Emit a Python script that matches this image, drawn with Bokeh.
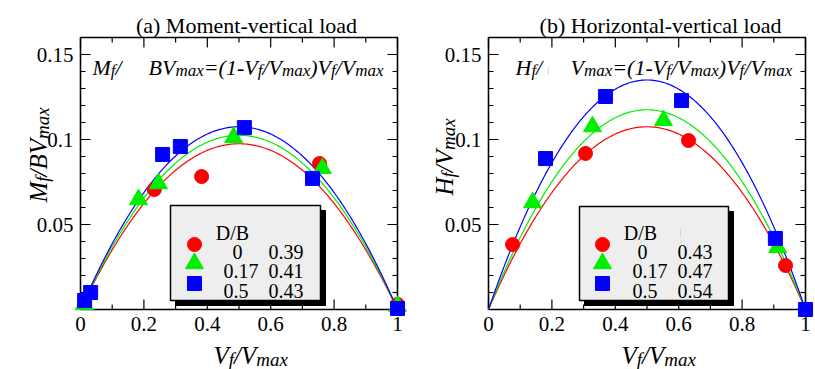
import math
import numpy as np
from bokeh.plotting import figure
from bokeh.models import Range1d, Label
from bokeh.core.properties import value
from bokeh.layouts import row
from bokeh.embed import file_html
from bokeh.resources import INLINE

# ---------------- data ----------------
x_tick_vals = [0, 0.2, 0.4, 0.6, 0.8, 1]
x_tick_labels = ["0", "0.2", "0.4", "0.6", "0.8", "1"]
x_minor_vals = [0.1, 0.3, 0.5, 0.7, 0.9]
y_tick_vals = [0.05, 0.1, 0.15]
y_tick_labels = ["0.05", "0.1", "0.15"]
y_minor_vals = [0.01, 0.02, 0.03, 0.04, 0.06, 0.07, 0.08, 0.09, 0.11, 0.12, 0.13, 0.14]
x_lim = (0, 1)
y_lim = (0, 0.16)

db_values = ["0", "0.17", "0.5"]
alpha_a = [0.39, 0.41, 0.43]
alpha_b = [0.43, 0.47, 0.54]

# (a) moment-vertical load
a_red_x = [0.233, 0.382, 0.754, 1.0]
a_red_y = [0.0706, 0.0782, 0.0859, 0.003]
a_green_x = [0.012, 0.183, 0.246, 0.483, 0.763, 1.0]
a_green_y = [0.003, 0.0647, 0.0741, 0.1012, 0.083, 0.002]
a_blue_x = [0.013, 0.032, 0.259, 0.315, 0.517, 0.732, 1.0]
a_blue_y = [0.0053, 0.010, 0.0912, 0.0959, 0.107, 0.0771, 0.0006]

# (b) horizontal-vertical load
b_red_x = [0.076, 0.306, 0.631, 0.937]
b_red_y = [0.0382, 0.0918, 0.0994, 0.0259]
b_green_x = [0.139, 0.328, 0.552, 0.912]
b_green_y = [0.0629, 0.1076, 0.1112, 0.0365]
b_blue_x = [0.18, 0.369, 0.609, 0.905, 1.0]
b_blue_y = [0.0888, 0.1253, 0.1229, 0.0418, 0.0]

colors = ["#ff0000", "#00ee00", "#0000ff"]
markers = ["circle", "triangle", "square"]
msizes = [14, 18, 14]

FONT = "Liberation Serif"
W_IT = {'M': 833, 'B': 611, 'V': 611, 'H': 722, 'f': 278, '/': 278, 'm': 722, 'a': 500,
        'x': 444, '=': 675, '(': 333, ')': 333, '1': 500, '-': 333, ' ': 250, '|': 275}

H = 369
FW = 317     # frame width in px
FH = 272     # frame height in px
FT = 37      # frame top in px
FB = H - FT - FH


def make_fig(w, fl, title, title_cx, series, alphas, formula_pieces, ylab_runs, ylab_pos,
             xlab_x, legend_geo, mark=None):
    sx = (x_lim[1] - x_lim[0]) / FW          # data per px
    sy = (y_lim[1] - y_lim[0]) / FH
    xr = Range1d(x_lim[0] - fl * sx, x_lim[1] + (w - fl - FW) * sx)
    yr = Range1d(y_lim[0] - FB * sy, y_lim[1] + FT * sy)

    def conv(px, py):
        return xr.start + px * sx, yr.end - py * sy

    p = figure(width=w, height=H, x_range=xr, y_range=yr, output_backend="svg",
               toolbar_location=None, min_border=0, x_axis_type=None, y_axis_type=None)
    p.grid.visible = False
    p.outline_line_color = None
    p.background_fill_color = "white"
    p.border_fill_color = "white"

    # ticks (inward, on all four sides)
    x0, x1 = x_lim
    y0, y1 = y_lim
    for vals, ln in [(x_tick_vals, 10), (x_minor_vals, 5)]:
        p.segment(x0=vals, y0=[y0] * len(vals), x1=vals, y1=[y0 + ln * sy] * len(vals),
                  line_color="black", line_width=1.2)
        p.segment(x0=vals, y0=[y1] * len(vals), x1=vals, y1=[y1 - ln * sy] * len(vals),
                  line_color="black", line_width=1.2)
    for vals, ln in [(y_tick_vals, 10), (y_minor_vals, 5)]:
        p.segment(x0=[x0] * len(vals), y0=vals, x1=[x0 + ln * sx] * len(vals), y1=vals,
                  line_color="black", line_width=1.2)
        p.segment(x0=[x1] * len(vals), y0=vals, x1=[x1 - ln * sx] * len(vals), y1=vals,
                  line_color="black", line_width=1.2)
    # frame
    p.quad(left=x0, right=x1, bottom=y0, top=y1, fill_color=None, line_color="black",
           line_width=1.6)
    # tick labels
    p.text(x=x_tick_vals, y=[y0 - 7 * sy] * len(x_tick_vals), text=x_tick_labels,
           text_font=value(FONT), text_font_size="21px", text_align="center",
           text_baseline="top", text_color="black")
    p.text(x=[x0 - 7 * sx] * len(y_tick_vals), y=y_tick_vals, text=y_tick_labels,
           text_font=value(FONT), text_font_size="21px", text_align="right",
           text_baseline="middle", text_color="black")

    # fitted curves of the plotted equation
    xs = np.linspace(0, 1, 201)
    for a, c in zip(alphas, colors):
        p.line(xs, a * (1 - xs) * xs, line_color=c, line_width=1.2)
    for (px_, py_), c, m, ms in zip(series, colors, markers, msizes):
        p.scatter(px_, py_, marker=m, size=ms, fill_color=c, line_color=c)

    def lab(px, py, text, size, style="normal", align="left", angle=0.0, color="black"):
        xd, yd = conv(px, py)
        p.add_layout(Label(x=xd, y=yd, text=text, text_font=FONT, text_font_size=f"{size}px",
                           text_font_style=style, text_baseline="alphabetic",
                           text_align=align, angle=angle, text_color=color))

    def rich(x_start, y_base, runs, size, sub, drop, angle=0.0):
        pos = 0.0
        for t, s in runs:
            fs = sub if s else size
            wd = sum(W_IT.get(c, 500) for c in t) / 1000.0 * fs
            if angle == 0:
                lab(x_start + pos, y_base + (drop if s else 0), t, fs, "italic")
            else:
                lab(x_start + (drop if s else 0), y_base - pos, t, fs, "italic", angle=angle)
            pos += wd

    # legend box with shadow
    L, T, R, B = legend_geo["box"]
    bx0, by0 = conv(L + 5, T + 5)
    bx1, by1 = conv(R + 5, B + 5)
    p.quad(left=bx0, right=bx1, top=by0, bottom=by1, fill_color="black", line_color="black")
    bx0, by0 = conv(L, T)
    bx1, by1 = conv(R, B)
    p.quad(left=bx0, right=bx1, top=by0, bottom=by1, fill_color="#eeeeee", line_color="black",
           line_width=1.5)
    for i, (c, m, ms) in enumerate(zip(colors, markers, msizes)):
        mx, my = conv(legend_geo["mx"], legend_geo["rows"][i])
        p.scatter([mx], [my], marker=m, size=ms, fill_color=c, line_color=c)
        lab(legend_geo["c1"][i], legend_geo["rows"][i] + 7, db_values[i], 20)
        lab(legend_geo["c2"], legend_geo["rows"][i] + 7, f"{alphas[i]:.2f}", 20)
    lab(legend_geo["hx"], 232, "D/B", 20, align="center")
    if mark is not None:
        lab(mark[0], mark[1], "|", 8, color="#999999")
        lab(mark[2], mark[3], "|", 8, color="#999999")

    lab(title_cx, 25, title, 22, align="center")
    for x_start, runs in formula_pieces:
        rich(x_start, 67, runs, 22, 17, 3)
    rich(xlab_x, 355, [("V", 0), ("f", 1), ("/V", 0), ("max", 1)], 25, 19, 4)
    rich(ylab_pos[0], ylab_pos[1], ylab_runs, 25, 19, 4, angle=math.pi / 2)
    return p


eq_tail = [("=(1-V", 0), ("f", 1), ("/V", 0), ("max", 1), (")V", 0), ("f", 1), ("/V", 0), ("max", 1)]

pa = make_fig(
    407, 80, "(a) Moment-vertical load", 246,
    [(a_red_x, a_red_y), (a_green_x, a_green_y), (a_blue_x, a_blue_y)], alpha_a,
    [(92, [("M", 0), ("f", 1), ("/", 0)]), (148, [("BV", 0), ("max", 1)] + eq_tail)],
    [("M", 0), ("f", 1), ("/BV", 0), ("max", 1)], (38, 202), 213,
    {"box": (170, 205, 320, 300), "mx": 194, "rows": [244, 263, 283],
     "c1": [232, 223, 223], "c2": 268, "hx": 232})

pb = make_fig(
    408, 81, "(b) Horizontal-vertical load", 253,
    [(b_red_x, b_red_y), (b_green_x, b_green_y), (b_blue_x, b_blue_y)], alpha_b,
    [(108, [("H", 0), ("f", 1), ("/", 0)]), (163, [("V", 0), ("max", 1)] + eq_tail)],
    [("H", 0), ("f", 1), ("/V", 0), ("max", 1)], (37, 195), 214,
    {"box": (172, 206, 321, 300), "mx": 195, "rows": [244, 263, 283],
     "c1": [230, 225, 225], "c2": 270, "hx": 233},
    mark=(140, 70, 272, 232))

layout = row(pa, pb)
open("out.html", "w").write(file_html(layout, INLINE))
